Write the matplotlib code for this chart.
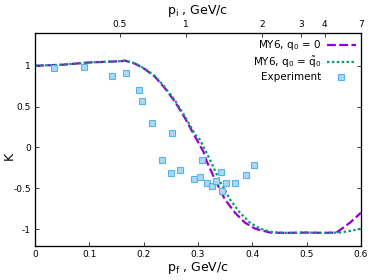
import numpy as np
import matplotlib
matplotlib.use('Agg')
import matplotlib.pyplot as plt

# === data ===
# MY6, q0 = 0
x_q0 = [0.0, 0.05, 0.10, 0.1565, 0.1657, 0.184, 0.2025, 0.2209, 0.2393, 0.2577,
        0.2761, 0.2945, 0.3098, 0.316, 0.3313, 0.3497, 0.368, 0.3865, 0.405,
        0.4325, 0.46, 0.50, 0.53, 0.555, 0.5798, 0.60]
k_q0 = [1.0, 1.012, 1.04, 1.055, 1.062, 1.026, 0.957, 0.864, 0.723, 0.560,
        0.358, 0.134, -0.049, -0.170, -0.393, -0.637, -0.798, -0.920, -0.993,
        -1.041, -1.045, -1.041, -1.045, -1.041, -0.92, -0.798]

# MY6, q0 = q0~
x_qt = [0.0, 0.05, 0.10, 0.1565, 0.1657, 0.184, 0.2025, 0.2209, 0.2393, 0.2577,
        0.2761, 0.2945, 0.3037, 0.322, 0.3405, 0.359, 0.3773, 0.3957, 0.4141,
        0.44, 0.47, 0.50, 0.53, 0.561, 0.5798, 0.60]
k_qt = [1.0, 1.012, 1.04, 1.055, 1.062, 1.03, 0.962, 0.872, 0.735, 0.575,
        0.378, 0.16, 0.094, -0.150, -0.415, -0.637, -0.798, -0.920, -0.993,
        -1.041, -1.045, -1.041, -1.045, -1.041, -1.022, -0.993]

# Experiment
x_exp = [0.035, 0.0896, 0.1423, 0.168, 0.192, 0.197, 0.215, 0.252, 0.234, 0.251,
         0.267, 0.293, 0.304, 0.307, 0.316, 0.326, 0.334, 0.342, 0.345, 0.352,
         0.368, 0.388, 0.404]
k_exp = [0.978, 0.985, 0.876, 0.912, 0.705, 0.568, 0.294, 0.182, -0.158, -0.316,
         -0.272, -0.380, -0.356, -0.157, -0.429, -0.474, -0.405, -0.306, -0.536,
         -0.437, -0.431, -0.336, -0.216]

# top axis: p_i values and where they sit on the p_f scale
pi_labels = ['0.5', '1', '2', '3', '4', '7']
pi_at_pf = [0.1565, 0.2774, 0.4184, 0.489, 0.5333, 0.6]

# === Plot ===
plt.rcParams['font.family'] = 'DejaVu Sans'
fig = plt.figure(figsize=(3.74, 2.8), dpi=100)
ax = fig.add_axes([0.0936, 0.123, 0.8716, 0.759])

ax.plot(x_q0, k_q0, color='#9400d3', linewidth=1.6, dashes=(4.0, 1.5),
        label=r'MY6, q$_0$ = 0')
ax.plot(x_qt, k_qt, color='#009e73', linewidth=1.6, dashes=(1.1, 1.1),
        label=r'MY6, q$_0$ = $\tilde{\mathrm{q}}_0$')
ax.plot(x_exp, k_exp, linestyle='none', marker='s', markersize=3.8,
        markerfacecolor='#a9d9f5', markeredgecolor='#56b4e9',
        markeredgewidth=0.8, label='Experiment')

ax.set_xlim(0, 0.6)
ax.set_ylim(-1.2, 1.4)
ax.set_xticks([0, 0.1, 0.2, 0.3, 0.4, 0.5, 0.6])
ax.set_xticklabels(['0', '0.1', '0.2', '0.3', '0.4', '0.5', '0.6'])
ax.set_yticks([-1, -0.5, 0, 0.5, 1])
ax.set_yticklabels(['-1', '-0.5', '0', '0.5', '1'])
ax.tick_params(direction='in', length=3, width=0.7, labelsize=6.5,
               right=True, colors='#333333', labelcolor='black', pad=3)
ax.set_xlabel(r'p$_\mathrm{f}$ , GeV/c', fontsize=9, labelpad=1)
ax.set_ylabel('K', fontsize=9)
ax.yaxis.set_label_coords(-0.06, 0.42)
for s in ax.spines.values():
    s.set_linewidth(0.9)
    s.set_color('#333333')

top = ax.twiny()
top.set_xlim(ax.get_xlim())
top.set_xticks(pi_at_pf)
top.set_xticklabels(pi_labels)
top.tick_params(direction='in', length=3, width=0.7, labelsize=6.5,
                colors='#333333', labelcolor='black', pad=3)
top.set_xlabel(r'p$_\mathrm{i}$ , GeV/c', fontsize=9, labelpad=4)

ax.legend(loc='upper right', frameon=False, markerfirst=False, fontsize=7.5,
          handlelength=2.8, handletextpad=0.5, labelspacing=0.25,
          borderaxespad=0.3, borderpad=0.2)

fig.savefig('out.png', dpi=100)
